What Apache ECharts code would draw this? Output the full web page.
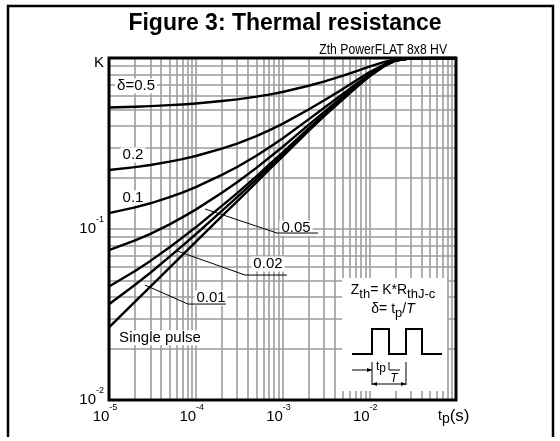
<!DOCTYPE html>
<html>
<head>
<meta charset="utf-8">
<script src="https://cdn.jsdelivr.net/npm/echarts@6/dist/echarts.min.js"></script>
<style>
html, body { margin: 0; padding: 0; background: #fff; }
#chart { width: 560px; height: 441px; }
</style>
</head>
<body>
<div id="chart"></div>
<script>
// pulse duration tp (s)
var tp = [1e-5, 2e-5, 3e-5, 5e-5, 7e-5, 1e-4, 2e-4, 3e-4, 5e-4, 7e-4, 1e-3, 2e-3, 3e-3, 5e-3, 7e-3, 1e-2, 1.5e-2, 2e-2, 3e-2, 5e-2, 1e-1]
// K = Zth / RthJ-c
var kSingle = [0.0266, 0.0376, 0.046, 0.0595, 0.0704, 0.084, 0.119, 0.145, 0.187, 0.222, 0.265, 0.375, 0.455, 0.575, 0.67, 0.78, 0.9, 0.965, 0.995, 1, 1]
var k001 = [0.0363, 0.0472, 0.0555, 0.0689, 0.0797, 0.0932, 0.1278, 0.1536, 0.1951, 0.2298, 0.2724, 0.3813, 0.4605, 0.5793, 0.6733, 0.7822, 0.901, 0.9654, 0.995, 1, 1]
var k002 = [0.0461, 0.0568, 0.0651, 0.0783, 0.089, 0.1023, 0.1366, 0.1621, 0.2033, 0.2376, 0.2797, 0.3875, 0.4659, 0.5835, 0.6766, 0.7844, 0.902, 0.9657, 0.9951, 1, 1]
var k005 = [0.0753, 0.0857, 0.0937, 0.1065, 0.1169, 0.1298, 0.1631, 0.1878, 0.2277, 0.2609, 0.3018, 0.4063, 0.4823, 0.5963, 0.6865, 0.791, 0.905, 0.9668, 0.9953, 1, 1]
var k01 = [0.1239, 0.1338, 0.1414, 0.1536, 0.1634, 0.1756, 0.2071, 0.2305, 0.2683, 0.2998, 0.3385, 0.4375, 0.5095, 0.6175, 0.703, 0.802, 0.91, 0.9685, 0.9955, 1, 1]
var k02 = [0.2213, 0.2301, 0.2368, 0.2476, 0.2563, 0.2672, 0.2952, 0.316, 0.3496, 0.3776, 0.412, 0.5, 0.564, 0.66, 0.736, 0.824, 0.92, 0.972, 0.996, 1, 1]
var k05 = [0.513, 0.519, 0.523, 0.53, 0.535, 0.542, 0.56, 0.573, 0.594, 0.611, 0.633, 0.688, 0.728, 0.788, 0.835, 0.89, 0.95, 0.983, 0.998, 1, 1]

// grid lines: decades and 2..9 inside each decade
var xDecades = [1e-5, 1e-4, 1e-3, 1e-2]
var yDecades = [0.01, 0.1]
var mantissas = [2, 3, 4, 5, 6, 7, 8, 9]

// curve labels (data coords)
var curveLabels = [
  { text: 'δ=0.5', at: [2.05e-5, 0.686] },
  { text: '0.2', at: [1.89e-5, 0.271] },
  { text: '0.1', at: [1.89e-5, 0.152] },
  { text: '0.05', at: [1.43e-3, 0.1014] },
  { text: '0.02', at: [6.8e-4, 0.0624] },
  { text: '0.01', at: [1.5e-4, 0.0395] },
  { text: 'Single pulse', at: [3.87e-5, 0.0231] }
]
var leaders = [
  [[1.28e-4, 0.131], [8.64e-4, 0.0947], [2.57e-3, 0.0947]],
  [[6.08e-5, 0.0744], [3.7e-4, 0.0538], [1.13e-3, 0.0538]],
  [[2.6e-5, 0.047], [8.14e-5, 0.0364], [2.23e-4, 0.0364]]
]

var FONT = "'Liberation Sans', Arial, sans-serif"
var GRID = '#9c9c9c'

var chart = echarts.init(document.getElementById('chart'))

function pairs(ys) {
  return tp.map(function (t, i) { return [t, ys[i]] })
}

function curve(name, ys) {
  return {
    name: name,
    type: 'line',
    data: pairs(ys),
    symbol: 'none',
    smooth: false,
    lineStyle: { color: '#000', width: 2.4, join: 'round' },
    z: 3
  }
}

var gridSegs = []
xDecades.forEach(function (d) {
  mantissas.forEach(function (m) { gridSegs.push({ coords: [[m * d, 0.01], [m * d, 1]] }) })
})
yDecades.forEach(function (d) {
  mantissas.forEach(function (m) { gridSegs.push({ coords: [[1e-5, m * d], [1e-1, m * d]] }) })
})

var supRich = {
  b: { fontSize: 15, fontFamily: FONT, color: '#000', lineHeight: 28 },
  sup: { fontSize: 9, fontFamily: FONT, color: '#000', lineHeight: 10, verticalAlign: 'top' },
  k: { fontSize: 15, fontFamily: FONT, color: '#000', padding: [10, 0, 0, 0] }
}

chart.setOption({
  animation: false,
  grid: { left: 109, top: 58, width: 347, height: 342 },
  xAxis: {
    type: 'log',
    logBase: 10,
    min: 1e-5,
    max: 1e-1,
    axisLine: { show: false },
    axisTick: { show: false },
    splitLine: { show: true, lineStyle: { color: GRID, width: 1.6 } },
    axisLabel: {
      margin: 3,
      padding: [0, 8, 0, 0],
      showMaxLabel: true,
      formatter: function (v) {
        var e = Math.round(Math.log10(v))
        return e === -1 ? '' : '{b|10}{sup|' + e + '}'
      },
      rich: supRich
    }
  },
  yAxis: {
    type: 'log',
    logBase: 10,
    min: 0.01,
    max: 1,
    axisLine: { show: false },
    axisTick: { show: false },
    splitLine: { show: true, lineStyle: { color: GRID, width: 1.6 } },
    axisLabel: {
      margin: 5,
      formatter: function (v) {
        var e = Math.round(Math.log10(v))
        return e === 0 ? '{k|K}' : '{b|10}{sup|' + e + '}'
      },
      rich: supRich
    }
  },
  series: [
    {
      type: 'lines',
      coordinateSystem: 'cartesian2d',
      silent: true,
      data: gridSegs,
      lineStyle: { color: GRID, width: 1.6, opacity: 1, curveness: 0 },
      z: 1
    },
    curve('δ=0.5', k05),
    curve('0.2', k02),
    curve('0.1', k01),
    curve('0.05', k005),
    curve('0.02', k002),
    curve('0.01', k001),
    curve('Single pulse', kSingle)
  ]
})

function px(p) {
  return chart.convertToPixel({ gridIndex: 0 }, p)
}

var g = []

// outer frame of the figure
g.push({ type: 'polyline', shape: { points: [[8, 437], [8, 6], [553, 6], [553, 437]] }, style: { stroke: '#000', lineWidth: 2.5, fill: null }, z: 100 })
// plot border
var tl = px([1e-5, 1]), br = px([1e-1, 0.01])
g.push({ type: 'rect', shape: { x: tl[0], y: tl[1], width: br[0] - tl[0], height: br[1] - tl[1] }, style: { stroke: '#000', lineWidth: 3, fill: null }, z: 100 })

g.push({ type: 'text', x: 285, y: 24, style: { text: 'Figure 3: Thermal resistance', font: 'bold 23px ' + FONT, fill: '#000', align: 'center', verticalAlign: 'middle' }, z: 100 })
g.push({ type: 'text', x: 447, y: 50, scaleX: 0.87, style: { text: 'Zth PowerFLAT 8x8 HV', font: '14px ' + FONT, fill: '#000', align: 'right', verticalAlign: 'middle' }, z: 100 })

// tp(s) axis name
g.push({
  type: 'text', x: 438, y: 416,
  style: {
    text: '{a|t}{p|p}{s|(s)}', align: 'left', verticalAlign: 'middle',
    rich: {
      a: { fontSize: 14, fontFamily: FONT, fill: '#000', lineHeight: 20 },
      p: { fontSize: 14, fontFamily: FONT, fill: '#000', lineHeight: 20, padding: [4, 0, 0, 0], verticalAlign: 'bottom' },
      s: { fontSize: 17, fontFamily: FONT, fill: '#000', lineHeight: 20 }
    }
  },
  z: 100
})

// labels sit above the grid but under the curves and leader lines
curveLabels.forEach(function (c) {
  var p = px(c.at)
  g.push({ type: 'text', x: p[0], y: p[1], style: { text: c.text, font: '15px ' + FONT, fill: '#000', align: 'center', verticalAlign: 'middle', backgroundColor: '#fff', padding: [0, 2] }, z: 2 })
})
leaders.forEach(function (l) {
  g.push({ type: 'polyline', shape: { points: l.map(px) }, style: { stroke: '#000', lineWidth: 1, fill: null }, z: 3 })
})

// inset with the Zth definition and pulse sketch
g.push({ type: 'rect', shape: { x: 342, y: 278, width: 105, height: 113 }, style: { fill: '#fff' }, z: 40 })
g.push({
  type: 'text', x: 393, y: 292,
  style: {
    text: '{m|Z}{s|th}{m|= K*R}{s|thJ-c}', align: 'center', verticalAlign: 'middle',
    rich: {
      m: { fontSize: 14, fontFamily: FONT, fill: '#000', lineHeight: 18, verticalAlign: 'top' },
      s: { fontSize: 13, fontFamily: FONT, fill: '#000', lineHeight: 14, padding: [4, 0, 0, 0], verticalAlign: 'bottom' }
    }
  },
  z: 50
})
g.push({
  type: 'text', x: 393, y: 311,
  style: {
    text: '{m|δ= t}{s|p}{m|/}{i|T}', align: 'center', verticalAlign: 'middle',
    rich: {
      m: { fontSize: 14, fontFamily: FONT, fill: '#000', lineHeight: 18, verticalAlign: 'top' },
      s: { fontSize: 13, fontFamily: FONT, fill: '#000', lineHeight: 14, padding: [4, 0, 0, 0], verticalAlign: 'bottom' },
      i: { fontSize: 14, fontStyle: 'italic', fontFamily: FONT, fill: '#000', lineHeight: 18, verticalAlign: 'top' }
    }
  },
  z: 50
})
g.push({ type: 'polyline', shape: { points: [[352, 354], [372, 354], [372, 329], [389, 329], [389, 354], [406, 354], [406, 329], [422, 329], [422, 354], [442, 354]] }, style: { stroke: '#000', lineWidth: 2, fill: null }, z: 50 })
var thin = { stroke: '#000', lineWidth: 1, fill: null }
g.push({ type: 'polyline', shape: { points: [[352, 370], [372, 370]] }, style: thin, z: 50 })
g.push({ type: 'polygon', shape: { points: [[367, 368], [372, 370], [367, 372]] }, style: { fill: '#000' }, z: 50 })
g.push({ type: 'polyline', shape: { points: [[372, 362], [372, 385]] }, style: thin, z: 50 })
g.push({ type: 'polyline', shape: { points: [[406, 362], [406, 385]] }, style: thin, z: 50 })
g.push({ type: 'polyline', shape: { points: [[389, 362], [389, 370], [400, 370]] }, style: thin, z: 50 })
g.push({ type: 'polyline', shape: { points: [[372, 384], [406, 384]] }, style: thin, z: 50 })
g.push({ type: 'polygon', shape: { points: [[377, 382], [372, 384], [377, 386]] }, style: { fill: '#000' }, z: 50 })
g.push({ type: 'polygon', shape: { points: [[401, 382], [406, 384], [401, 386]] }, style: { fill: '#000' }, z: 50 })
g.push({
  type: 'text', x: 376, y: 368,
  style: {
    text: '{a|t}{p|p}', align: 'left', verticalAlign: 'middle',
    rich: {
      a: { fontSize: 12, fontFamily: FONT, fill: '#000', lineHeight: 14, verticalAlign: 'top' },
      p: { fontSize: 12, fontFamily: FONT, fill: '#000', lineHeight: 12, padding: [4, 0, 0, 0], verticalAlign: 'bottom' }
    }
  },
  z: 50
})
g.push({ type: 'text', x: 394, y: 379, style: { text: 'T', font: 'italic 12px ' + FONT, fill: '#000', align: 'center', verticalAlign: 'middle' }, z: 50 })

chart.setOption({ graphic: g })
</script>
